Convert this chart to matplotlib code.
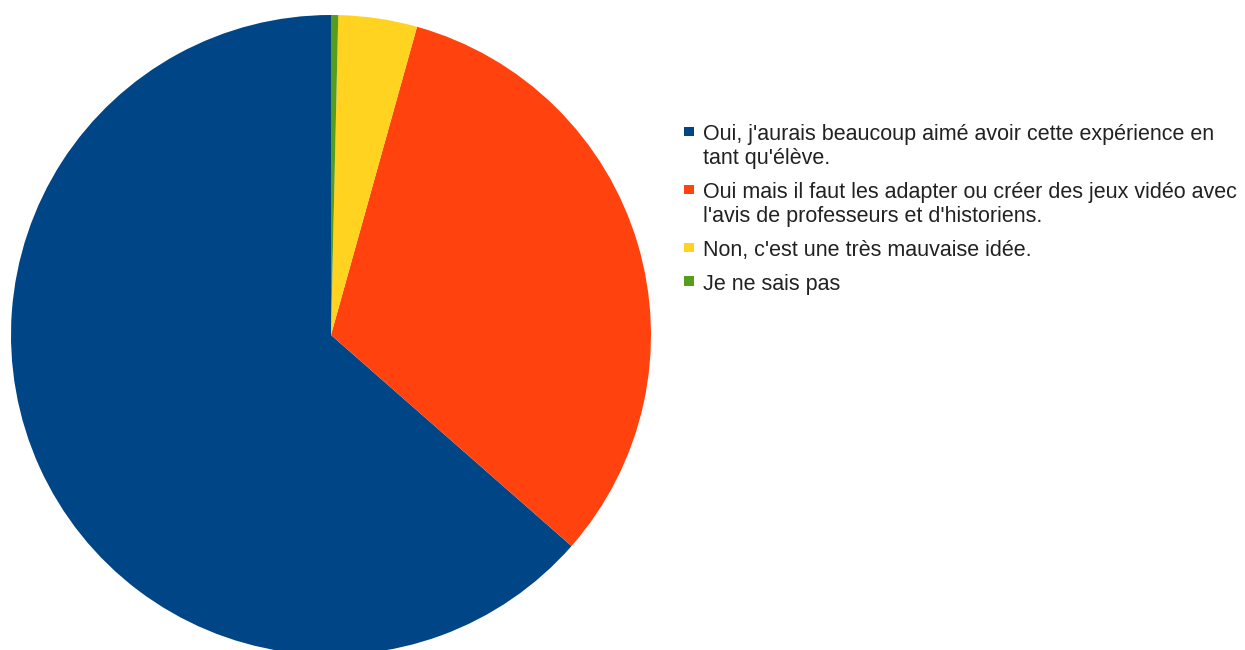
import matplotlib.pyplot as plt
from matplotlib.patches import Rectangle

# survey answers (counts)
labels = [
    "Oui, j'aurais beaucoup aimé avoir cette expérience en\ntant qu'élève.",
    "Oui mais il faut les adapter ou créer des jeux vidéo avec\nl'avis de professeurs et d'historiens.",
    "Non, c'est une très mauvaise idée.",
    "Je ne sais pas",
]
counts = [176, 89, 11, 1]
colors = ["#004586", "#ff420e", "#ffd320", "#579d1c"]

plt.rcParams['font.family'] = ['Liberation Sans', 'DejaVu Sans']

W, H = 1245, 650
fig = plt.figure(figsize=(W / 100, H / 100), dpi=100)
# pie centre ~ (331, 335) px, radius ~ 320 px
ax = fig.add_axes([11 / W, -5 / H, 640 / W, 640 / H])
ax.pie(counts, colors=colors, startangle=90, counterclock=True,
       radius=1.0, wedgeprops=dict(linewidth=0))
ax.set_xlim(-1, 1)
ax.set_ylim(-1, 1)
ax.set_aspect('equal')
ax.axis('off')

# legend drawn by hand: marker sits on the first line of each entry
line_h = 24   # px between wrapped lines
gap = 34      # px from last line of one entry to first line of the next
y = 140       # baseline of first line, px from top
for lab, c in zip(labels, colors):
    fig.patches.append(Rectangle((684 / W, 1 - (y - 4) / H), 9.5 / W, 9.5 / H,
                                 transform=fig.transFigure, facecolor=c,
                                 edgecolor='none'))
    lines = lab.split("\n")
    for i, ln in enumerate(lines):
        fig.text(703 / W, 1 - (y + i * line_h) / H, ln, fontsize=15.5,
                 color='#222222', va='baseline', ha='left')
    y += (len(lines) - 1) * line_h + gap

fig.savefig('out.png', dpi=100)
